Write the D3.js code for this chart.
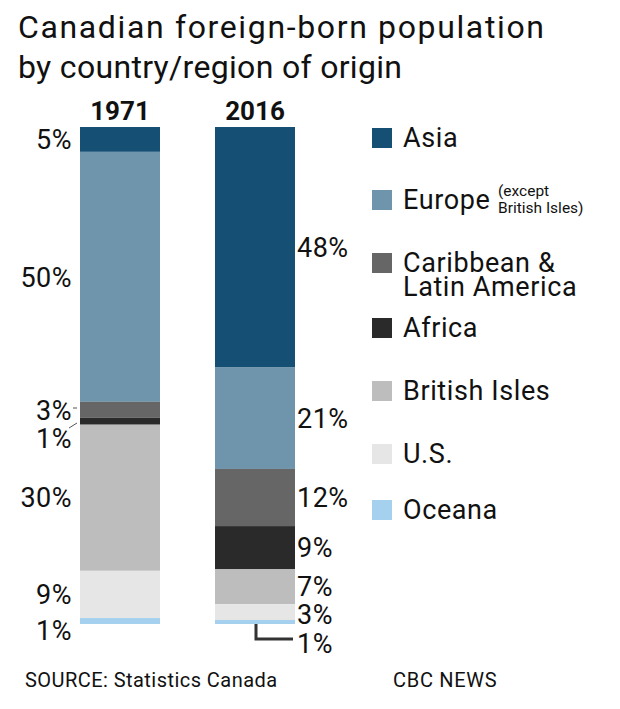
<!DOCTYPE html>
<html><head><meta charset="utf-8">
<script src="https://cdn.jsdelivr.net/npm/d3@7/dist/d3.min.js"></script>
<style>body{margin:0;background:#fff}svg{display:block}text{font-family:Roboto,"DejaVu Sans",sans-serif}</style>
</head><body><div id="chart"></div>
<script>
const years = ["1971", "2016"];
const regions = ["Asia", "Europe", "Caribbean & Latin America", "Africa", "British Isles", "U.S.", "Oceana"];
const values1971 = [5.0, 50.3, 3.2, 1.4, 29.4, 9.5, 1.2];
const values2016 = [48.3, 20.5, 11.5, 8.7, 7.0, 3.2, 0.8];
const labels1971 = ["5%", "50%", "3%", "1%", "30%", "9%", "1%"];
const labels2016 = ["48%", "21%", "12%", "9%", "7%", "3%", "1%"];
const colors = ["#164f74", "#6f95ad", "#666666", "#2a2a2a", "#bdbdbd", "#e6e6e6", "#a6d1ee"];

const W = 620, H = 709;
const svg = d3.select("#chart").append("svg").attr("width", W).attr("height", H);

const rows = years.map((y, i) => {
  const vals = i === 0 ? values1971 : values2016;
  const o = {year: y};
  regions.forEach((r, j) => o[r] = vals[j]);
  return o;
});
const stack = d3.stack().keys(regions).offset(d3.stackOffsetExpand);
const series = stack(rows);

const xb = d3.scaleOrdinal().domain(years).range([80, 215]);
const bw = 80;
const y = d3.scaleLinear().domain([0, 1]).range([127, 624]);
const color = d3.scaleOrdinal().domain(regions).range(colors);

// title
const title = svg.append("g").attr("font-size", 32).attr("fill", "#111");
title.append("text").attr("x", 18).attr("y", 38).attr("textLength", 526).attr("lengthAdjust", "spacing").text("Canadian foreign-born population");
title.append("text").attr("x", 18).attr("y", 78).attr("textLength", 384).attr("lengthAdjust", "spacing").text("by country/region of origin");

// year labels
svg.selectAll(".yr").data(years).join("text")
  .attr("x", d => xb(d) + bw / 2).attr("y", 120)
  .attr("text-anchor", "middle").attr("font-size", 26).attr("font-weight", "bold").attr("fill", "#111").text(d => d);

// bars
svg.selectAll(".seg").data(series).join("g").attr("fill", d => color(d.key))
  .selectAll("rect").data(d => d).join("rect")
  .attr("x", d => xb(d.data.year)).attr("width", bw)
  .attr("y", d => y(d[0])).attr("height", d => y(d[1]) - y(d[0]));

// labels
const mid = (yi, ri) => (y(series[ri][yi][0]) + y(series[ri][yi][1])) / 2;
const lab1971Y = regions.map((r, i) => mid(0, i));
lab1971Y[2] = 410; lab1971Y[3] = 438; lab1971Y[6] = 630;
const lab2016Y = regions.map((r, i) => mid(1, i));
lab2016Y[5] = 614; lab2016Y[6] = 643;

svg.selectAll(".l71").data(labels1971).join("text")
  .attr("x", 72).attr("y", (d, i) => lab1971Y[i]).attr("dy", "0.36em")
  .attr("text-anchor", "end").attr("font-size", 27).attr("letter-spacing", 0.5).attr("fill", "#111").text(d => d);
svg.selectAll(".l16").data(labels2016).join("text")
  .attr("x", 297).attr("y", (d, i) => lab2016Y[i]).attr("dy", "0.36em")
  .attr("text-anchor", "start").attr("font-size", 27).attr("letter-spacing", 0.5).attr("fill", "#111").text(d => d);

// leader lines
svg.append("line").attr("x1", 73).attr("x2", 77).attr("y1", 408).attr("y2", 408).attr("stroke", "#555").attr("stroke-width", 1);
svg.append("line").attr("x1", 69).attr("x2", 77).attr("y1", 428).attr("y2", 423).attr("stroke", "#555").attr("stroke-width", 1);
svg.append("path").attr("d", `M256,${y(1)}V639H293`).attr("fill", "none").attr("stroke", "#333").attr("stroke-width", 3);

// legend
const legY = [138, 200, 263, 328, 391, 454, 510];
const legText = [["Asia"], ["Europe"], ["Caribbean &", "Latin America"], ["Africa"], ["British Isles"], ["U.S."], ["Oceana"]];
const lg = svg.selectAll(".lg").data(regions).join("g").attr("transform", (d, i) => `translate(372,${legY[i]})`);
lg.append("rect").attr("x", 0).attr("y", -10).attr("width", 20).attr("height", 20).attr("fill", d => color(d));
lg.append("text").attr("y", 9).attr("font-size", 27).attr("letter-spacing", 0.6).attr("fill", "#111")
  .selectAll("tspan").data((d, i) => legText[i]).join("tspan")
  .attr("x", 31).attr("dy", (d, j) => j === 0 ? 0 : 24).text(d => d);
const note = svg.append("text").attr("font-size", 15.5).attr("fill", "#111");
note.append("tspan").attr("x", 498).attr("y", 196).text("(except");
note.append("tspan").attr("x", 498).attr("y", 213).text("British Isles)");

// footer
svg.append("text").attr("x", 25).attr("y", 687).attr("font-size", 20).attr("letter-spacing", 0.45).attr("fill", "#111").text("SOURCE: Statistics Canada");
svg.append("text").attr("x", 393).attr("y", 687).attr("font-size", 20).attr("letter-spacing", 0.7).attr("fill", "#111").text("CBC NEWS");
</script></body></html>
